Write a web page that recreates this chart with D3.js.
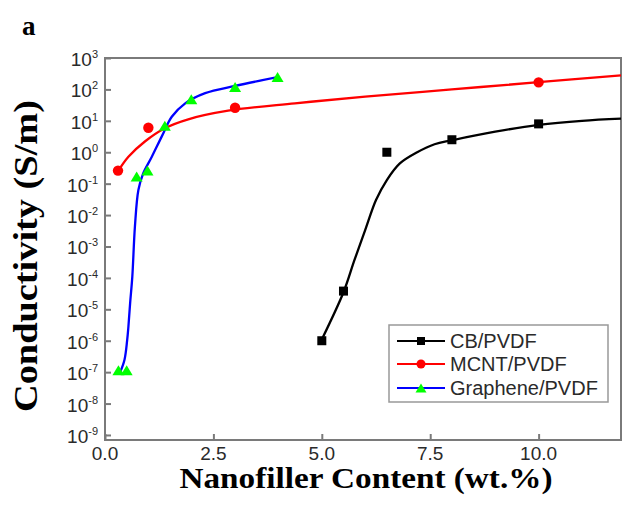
<!DOCTYPE html>
<html>
<head>
<meta charset="utf-8">
<script src="https://cdn.jsdelivr.net/npm/d3@7"></script>
<style>
body { margin: 0; background: #fff; }
</style>
</head>
<body>
<script>
var w = 625;
var h = 512;
var svg;

// measured points
var cbX = [5.0, 5.5, 6.5, 8.0, 10.0];
var cbY = [1.0e-6, 3.8e-5, 1.0, 2.5, 8.0];

var mcntX = [0.3, 1.0, 3.0, 10.0];
var mcntY = [0.26, 6.0, 26, 168];

var grapheneX = [0.31, 0.5, 0.73, 0.98, 1.38, 1.99, 3.0, 3.98];
var grapheneY = [1.15e-7, 1.15e-7, 0.17, 0.26, 7.0, 49, 120, 250];

// fitted curves
var cbFitX = [5.0, 5.5, 5.75, 6.0, 6.25, 6.5, 6.8, 7.2, 7.6, 8.0, 9.0, 10.0, 11.0, 11.9];
var cbFitY = [1.1e-6, 3.5e-5, 3.6e-4, 3.3e-3, 0.03, 0.13, 0.44, 1.0, 1.8, 2.4, 4.5, 7.4, 10, 11.7];

var mcntFitX = [0.3, 0.54, 0.92, 1.38, 1.92, 2.84, 4.38, 6.0, 8.0, 10.0, 11.9];
var mcntFitY = [0.25, 0.72, 2.2, 5.8, 11.2, 21, 36, 59, 100, 170, 280];

var grapheneFitX = [0.35, 0.45, 0.51, 0.54, 0.58, 0.63, 0.69, 0.77, 0.88, 1.08, 1.31, 1.54, 1.85, 2.31, 3.0, 3.98];
var grapheneFitY = [1.0e-7, 2.5e-7, 1.0e-6, 2.8e-6, 1.6e-5, 1.1e-4, 4.3e-3, 0.063, 0.21, 0.72, 3.2, 13.5, 36, 76, 129, 245];

// axes
var xTicks = [0, 2.5, 5.0, 7.5, 10.0];
var yExponents = [3, 2, 1, 0, -1, -2, -3, -4, -5, -6, -7, -8, -9];

var seriesNames = ["CB/PVDF", "MCNT/PVDF", "Graphene/PVDF"];

var plotLeft = 105;
var plotRight = 621;
var plotTop = 58;
var plotBottom = 440;
var frameColor = "#7a7a7a";

drawContent();
function drawContent(){
    svg = d3.select("body")
        .append("svg")
        .attr("width", w)
        .attr("height", h);

    var x = d3.scaleLinear()
        .domain([0, 11.9])
        .range([plotLeft, plotRight]);

    var y = d3.scaleLog()
        .domain([Math.pow(10, -9.16), 1e3])
        .range([plotBottom, plotTop]);

    //-----ticks------
    svg.append("g")
        .attr("transform", "translate(" + plotLeft + ",0)")
        .call(d3.axisLeft(y)
            .tickValues(yExponents.map(function (e) { return Math.pow(10, e); }))
            .tickSizeInner(-6)
            .tickSizeOuter(0)
            .tickFormat(""))
        .call(function (g) {
            g.select(".domain").remove();
            g.selectAll("line").attr("stroke", frameColor).attr("stroke-width", 2);
        });

    svg.append("g")
        .attr("transform", "translate(0," + plotBottom + ")")
        .call(d3.axisBottom(x)
            .tickValues(xTicks)
            .tickSizeInner(-6)
            .tickSizeOuter(0)
            .tickFormat(""))
        .call(function (g) {
            g.select(".domain").remove();
            g.selectAll("line").attr("stroke", frameColor).attr("stroke-width", 2);
        });

    //-----frame------
    svg.append("rect")
        .attr("x", plotLeft)
        .attr("y", plotTop)
        .attr("width", plotRight - plotLeft)
        .attr("height", plotBottom - plotTop)
        .attr("fill", "none")
        .attr("stroke", frameColor)
        .attr("stroke-width", 2);

    //-----tick labels------
    var yLab = svg.append("g")
        .selectAll("text")
        .data(yExponents)
        .join("text")
        .attr("x", 98)
        .attr("y", function (d) { return y(Math.pow(10, d)) + 8; })
        .attr("text-anchor", "end")
        .attr("font-family", "Liberation Sans, Arial, sans-serif")
        .attr("font-size", 19)
        .attr("fill", "#2a2a2a");
    yLab.append("tspan").text("10");
    yLab.append("tspan")
        .attr("dy", -8)
        .attr("font-size", 11)
        .text(function (d) { return d; });

    svg.append("g")
        .selectAll("text")
        .data(xTicks)
        .join("text")
        .attr("x", function (d) { return x(d); })
        .attr("y", 460)
        .attr("text-anchor", "middle")
        .attr("font-family", "Liberation Sans, Arial, sans-serif")
        .attr("font-size", 19)
        .attr("fill", "#2a2a2a")
        .text(function (d) { return d3.format(".1f")(d); });

    //-----titles------
    svg.append("text")
        .text("a")
        .attr("x", 22)
        .attr("y", 35)
        .attr("font-size", 27)
        .attr("font-weight", "bold")
        .attr("font-family", "Liberation Serif, Times New Roman, serif")
        .attr("fill", "#000");

    svg.append("text")
        .text("Nanofiller Content (wt.%)")
        .attr("x", 366)
        .attr("y", 488)
        .attr("text-anchor", "middle")
        .attr("font-size", 29)
        .attr("font-weight", "bold")
        .attr("textLength", 373)
        .attr("lengthAdjust", "spacingAndGlyphs")
        .attr("font-family", "Liberation Serif, Times New Roman, serif")
        .attr("fill", "#000");

    svg.append("text")
        .text("Conductivity (S/m)")
        .attr("transform", "translate(37,256) rotate(-90)")
        .attr("text-anchor", "middle")
        .attr("font-size", 33)
        .attr("font-weight", "bold")
        .attr("textLength", 312)
        .attr("lengthAdjust", "spacingAndGlyphs")
        .attr("font-family", "Liberation Serif, Times New Roman, serif")
        .attr("fill", "#000");

    //-----curves------
    var line = d3.line()
        .x(function (d) { return x(d[0]); })
        .y(function (d) { return y(d[1]); })
        .curve(d3.curveCatmullRom.alpha(0.5));

    svg.append("path")
        .datum(d3.zip(cbFitX, cbFitY))
        .attr("d", line)
        .attr("fill", "none")
        .attr("stroke", "#000")
        .attr("stroke-width", 2.3);

    svg.append("path")
        .datum(d3.zip(mcntFitX, mcntFitY))
        .attr("d", line)
        .attr("fill", "none")
        .attr("stroke", "#ff0000")
        .attr("stroke-width", 2.3);

    svg.append("path")
        .datum(d3.zip(grapheneFitX, grapheneFitY))
        .attr("d", line)
        .attr("fill", "none")
        .attr("stroke", "#0000ff")
        .attr("stroke-width", 2.3);

    //-----markers------
    svg.append("g")
        .selectAll("rect")
        .data(d3.zip(cbX, cbY))
        .join("rect")
        .attr("x", function (d) { return x(d[0]) - 4.5; })
        .attr("y", function (d) { return y(d[1]) - 4.5; })
        .attr("width", 9)
        .attr("height", 9)
        .attr("fill", "#000");

    svg.append("g")
        .selectAll("circle")
        .data(d3.zip(mcntX, mcntY))
        .join("circle")
        .attr("cx", function (d) { return x(d[0]); })
        .attr("cy", function (d) { return y(d[1]); })
        .attr("r", 5.2)
        .attr("fill", "#ff0000");

    svg.append("g")
        .selectAll("path")
        .data(d3.zip(grapheneX, grapheneY))
        .join("path")
        .attr("d", function (d) { return triangle(x(d[0]), y(d[1]), 12, 10); })
        .attr("fill", "#00ff00");

    //-----legend------
    svg.append("rect")
        .attr("x", 389)
        .attr("y", 325)
        .attr("width", 219)
        .attr("height", 77)
        .attr("fill", "#fff")
        .attr("stroke", "#999")
        .attr("stroke-width", 1.5);

    var rowY = [341, 364, 388];
    var colors = ["#000", "#ff0000", "#0000ff"];
    for (var i = 0; i < seriesNames.length; i++) {
        svg.append("line")
            .attr("x1", 397)
            .attr("x2", 445)
            .attr("y1", rowY[i])
            .attr("y2", rowY[i])
            .attr("stroke", colors[i])
            .attr("stroke-width", 2.2);

        svg.append("text")
            .text(seriesNames[i])
            .attr("x", 450)
            .attr("y", rowY[i] + 7)
            .attr("font-size", 20)
            .attr("font-family", "Liberation Sans, Arial, sans-serif")
            .attr("fill", "#2a2a2a");
    }
    svg.append("rect")
        .attr("x", 417)
        .attr("y", rowY[0] - 4)
        .attr("width", 8)
        .attr("height", 8)
        .attr("fill", "#000");
    svg.append("circle")
        .attr("cx", 421)
        .attr("cy", rowY[1])
        .attr("r", 4.5)
        .attr("fill", "#ff0000");
    svg.append("path")
        .attr("d", triangle(421, rowY[2], 11, 9))
        .attr("fill", "#00ff00");
}

function triangle(cx, cy, tw, th){
    return "M" + cx + "," + (cy - th / 2) +
        "L" + (cx + tw / 2) + "," + (cy + th / 2) +
        "L" + (cx - tw / 2) + "," + (cy + th / 2) + "Z";
}
</script>
</body>
</html>
